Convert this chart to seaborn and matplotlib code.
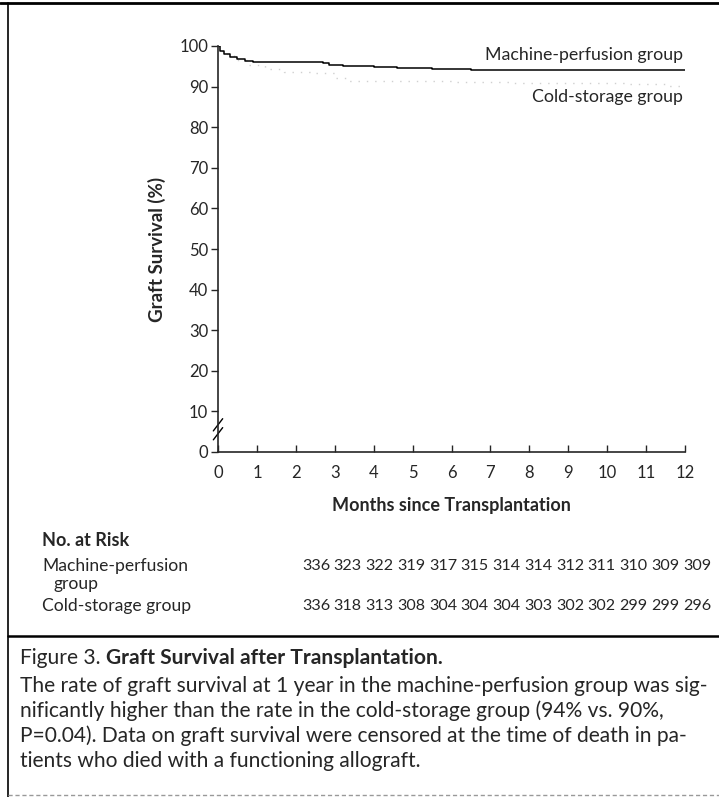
import pandas as pd
import matplotlib.pyplot as plt
import seaborn as sns
from matplotlib.lines import Line2D

sns.set_style("ticks")
plt.rcParams['font.family'] = ['Lato', 'DejaVu Sans']

# Kaplan-Meier style step data
months_mp = [0, 0.05, 0.15, 0.3, 0.5, 0.7, 0.9, 1.2, 2.7, 2.85, 3.2, 4.0, 4.6, 5.5, 6.5, 8.0, 12.0]
surv_mp = [100, 98.8, 98.0, 97.3, 96.8, 96.4, 96.1, 96.0, 95.9, 95.2, 95.0, 94.8, 94.5, 94.3, 94.2, 94.1, 94.1]

months_cs = [0, 0.1, 0.4, 0.8, 1.2, 1.7, 2.5, 3.0, 3.3, 5.0, 6.1, 7.5, 9.0, 10.5, 11.5, 12.0]
surv_cs = [100, 98.0, 96.5, 95.2, 94.3, 93.6, 93.4, 92.2, 91.4, 91.3, 91.1, 91.0, 90.9, 90.6, 90.2, 90.0]

risk_months = list(range(13))
risk_mp = [336, 323, 322, 319, 317, 315, 314, 314, 312, 311, 310, 309, 309]
risk_cs = [336, 318, 313, 308, 304, 304, 304, 303, 302, 302, 299, 299, 296]

df_mp = pd.DataFrame({'Months': months_mp, 'Survival': surv_mp})
df_cs = pd.DataFrame({'Months': months_cs, 'Survival': surv_cs})

W, H = 719, 797
fig = plt.figure(figsize=(W / 100, H / 100), dpi=100)
ax = fig.add_axes([218 / W, 1 - 452 / H, (685 - 218) / W, (452 - 46) / H])

sns.lineplot(data=df_cs, x='Months', y='Survival', ax=ax, drawstyle='steps-post',
             color='#d0d0d0', linewidth=1.0, linestyle=(0, (1, 5)))
sns.lineplot(data=df_mp, x='Months', y='Survival', ax=ax, drawstyle='steps-post',
             color='black', linewidth=1.1)

ax.set_xlim(0, 12)
ax.set_ylim(0, 100)
ax.set_xticks(range(13))
ax.set_yticks(range(0, 101, 10))
ax.tick_params(axis='x', direction='in', length=5, width=1, labelsize=12, pad=9)
ax.tick_params(axis='y', direction='out', length=5, width=1, labelsize=12, pad=2)
sns.despine(ax=ax)
for s in ['left', 'bottom']:
    ax.spines[s].set_linewidth(1.2)

ax.set_ylabel('Graft Survival (%)', fontsize=13.5, fontweight='bold', labelpad=10)
ax.set_xlabel('Months since Transplantation', fontsize=13, fontweight='bold', labelpad=12)

# axis break marks
for off in [0, 2.2]:
    ax.plot([-0.12, 0.12], [3.0 + off, 6.0 + off], color='black', lw=1.0, clip_on=False)
ax.plot([0, 0], [3.6, 7.6], color='white', lw=3, clip_on=False, zorder=0.5)

ax.text(11.95, 97.8, 'Machine-perfusion group', ha='right', va='center', fontsize=12.8)
ax.text(11.95, 87.5, 'Cold-storage group', ha='right', va='center', fontsize=12.8)

# number at risk table
fs_t = 12.6
fs_n = 11.6
fig.text(42 / W, 1 - 540 / H, 'No. at Risk', fontsize=13, fontweight='bold', va='center')
fig.text(42 / W, 1 - 566 / H, 'Machine-perfusion', fontsize=fs_t, va='center')
fig.text(54 / W, 1 - 584 / H, 'group', fontsize=fs_t, va='center')
fig.text(42 / W, 1 - 606 / H, 'Cold-storage group', fontsize=fs_t, va='center')
for i, m in enumerate(risk_months):
    xc = (316 + 31.75 * m) / W
    fig.text(xc, 1 - 566 / H, str(risk_mp[i]), fontsize=fs_n, ha='center', va='center')
    fig.text(xc, 1 - 606 / H, str(risk_cs[i]), fontsize=fs_n, ha='center', va='center')

# caption
fs_c = 15.1
t = fig.text(20 / W, 1 - 658 / H, 'Figure 3. ', fontsize=fs_c, va='center')
fig.canvas.draw()
bb = t.get_window_extent()
fig.text(bb.x1 / W, 1 - 658 / H, 'Graft Survival after Transplantation.', fontsize=fs_c,
         fontweight='bold', va='center')
caption = ['The rate of graft survival at 1 year in the machine-perfusion group was sig-',
           'nificantly higher than the rate in the cold-storage group (94% vs. 90%,',
           'P=0.04). Data on graft survival were censored at the time of death in pa-',
           'tients who died with a functioning allograft.']
for k, line in enumerate(caption):
    fig.text(20 / W, 1 - (686 + 25 * k) / H, line, fontsize=fs_c, va='center')

# frame lines
fig.add_artist(Line2D([0, 1], [1 - 3 / H, 1 - 3 / H], color='black', lw=2))
fig.add_artist(Line2D([8 / W, 8 / W], [0, 1 - 3 / H], color='black', lw=1.2))
fig.add_artist(Line2D([8 / W, 1], [1 - 636 / H, 1 - 636 / H], color='black', lw=1.8))
fig.add_artist(Line2D([8 / W, 1], [1 - 795 / H, 1 - 795 / H], color='#999999', lw=1, ls=(0, (3, 2))))

fig.savefig('out.png', dpi=100)
